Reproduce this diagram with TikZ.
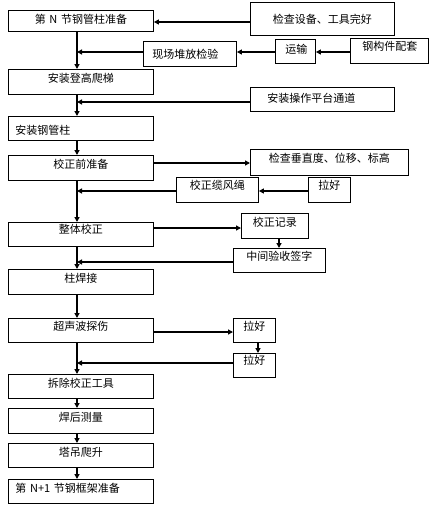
\documentclass[tikz,border=0pt]{standalone}
\usepackage{fontspec}
\newfontfamily\cjk{Noto Sans CJK SC}
\usetikzlibrary{arrows.meta}
\tikzset{
  bx/.style n args={5}{draw, line width=0.9pt, inner sep=0pt, anchor=north west,
    minimum width=#1, text width=#1, minimum height=#2,
    text height=#3, text depth=#4, align=#5,
    font=\cjk\fontsize{11}{13}\selectfont},
  arr/.style={line width=1.9pt, -{Triangle[length=5pt,width=5pt]}},
}
\begin{document}
\begin{tikzpicture}[x=1pt,y=-1pt]
\useasboundingbox (0,0) rectangle (442,512);
% left column
\node[bx={145pt}{21pt}{13pt}{8pt}{center}] (b1) at (8,10) {第 N 节钢管柱准备};
\node[bx={145pt}{25pt}{13pt}{12pt}{center}] (b2) at (8,69) {安装登高爬梯};
\node[bx={145pt}{24pt}{18.5pt}{5.5pt}{left}] (b3) at (8,116) {\hspace*{7pt}安装钢管柱};
\node[bx={145pt}{25pt}{13pt}{12pt}{center}] (b4) at (8,155) {校正前准备};
\node[bx={145pt}{24pt}{11pt}{13pt}{center}] (b5) at (8,222) {整体校正};
\node[bx={145pt}{25pt}{13pt}{12pt}{center}] (b6) at (8,269) {柱焊接};
\node[bx={145pt}{24pt}{12pt}{12pt}{center}] (b7) at (8,318) {超声波探伤};
\node[bx={145pt}{24pt}{13pt}{11pt}{center}] (b8) at (8,374) {拆除校正工具};
\node[bx={145pt}{25pt}{13pt}{12pt}{center}] (b9) at (8,408) {焊后测量};
\node[bx={145pt}{24pt}{13pt}{11pt}{center}] (b10) at (8,443) {塔吊爬升};
\node[bx={145pt}{24pt}{13pt}{11pt}{left}] (b11) at (8,479) {\hspace*{7pt}第 N+1 节钢框架准备};
% right side
\node[bx={144pt}{33pt}{21pt}{12pt}{center}] (r1) at (250,2) {检查设备、工具完好};
\node[bx={93pt}{25pt}{17pt}{8pt}{left}] (r2) at (143,41) {\hspace*{9pt}现场堆放检验};
\node[bx={40pt}{24pt}{14pt}{10pt}{left}] (ys) at (275,39) {\hspace*{10pt}运输};
\node[bx={78pt}{25pt}{12pt}{13pt}{left}] (gj) at (350,38) {\hspace*{12pt}钢构件配套};
\node[bx={144pt}{24pt}{15pt}{9pt}{left}] (r3) at (250,87) {\hspace*{17pt}安装操作平台通道};
\node[bx={158pt}{26pt}{13pt}{13pt}{center}] (r4) at (250,149) {检查垂直度、位移、标高};
\node[bx={82pt}{25pt}{12pt}{13pt}{center}] (r5) at (176,177) {校正缆风绳};
\node[bx={42pt}{25pt}{12pt}{13pt}{center}] (l1) at (308,177) {拉好};
\node[bx={67pt}{25pt}{13pt}{12pt}{center}] (r6) at (241,213) {校正记录};
\node[bx={92pt}{24pt}{12pt}{12pt}{center}] (r7) at (233,248) {中间验收签字};
\node[bx={42pt}{24pt}{12pt}{12pt}{center}] (l2) at (233,318) {拉好};
\node[bx={42pt}{24pt}{11pt}{13pt}{center}] (l3) at (233,353) {拉好};
% helper coordinates
\coordinate (m) at (77,0);
\coordinate (y1) at (0,22);
\coordinate (y2) at (0,52);
\coordinate (y3) at (0,102);
\coordinate (y4) at (0,163);
\coordinate (y5) at (0,191);
\coordinate (y6) at (0,228);
\coordinate (y7) at (0,262);
\coordinate (y8) at (0,332);
\coordinate (y9) at (0,363);
\coordinate (vx1) at (279,0);
\coordinate (vx2) at (258,0);
% main vertical flow
\draw[arr] (b1.south -| m) -- (b2.north -| m);
\draw[arr] (b2.south -| m) -- (b3.north -| m);
\draw[arr] (b3.south -| m) -- (b4.north -| m);
\draw[arr] (b4.south -| m) -- (b5.north -| m);
\draw[arr] (b5.south -| m) -- (b6.north -| m);
\draw[arr] (b6.south -| m) -- (b7.north -| m);
\draw[arr] (b7.south -| m) -- (b8.north -| m);
\draw[arr] (b8.south -| m) -- (b9.north -| m);
\draw[arr] (b9.south -| m) -- (b10.north -| m);
\draw[arr] (b10.south -| m) -- (b11.north -| m);
% side arrows
\draw[arr] (r1.west |- y1) -- (b1.east |- y1);
\draw[arr] (gj.west |- y2) -- (ys.east |- y2);
\draw[arr] (ys.west |- y2) -- (r2.east |- y2);
\draw[arr] (r2.west |- y2) -- (m |- y2);
\draw[arr] (r3.west |- y3) -- (m |- y3);
\draw[arr] (b4.east |- y4) -- (r4.west |- y4);
\draw[arr] (l1.west |- y5) -- (r5.east |- y5);
\draw[arr] (r5.west |- y5) -- (m |- y5);
\draw[arr] (b5.east |- y6) -- (r6.west |- y6);
\draw[arr] (r6.south -| vx1) -- (r7.north -| vx1);
\draw[arr] (r7.west |- y7) -- (m |- y7);
\draw[arr] (b7.east |- y8) -- (l2.west |- y8);
\draw[arr] (l2.south -| vx2) -- (l3.north -| vx2);
\draw[arr] (l3.west |- y9) -- (m |- y9);
\end{tikzpicture}
\end{document}
